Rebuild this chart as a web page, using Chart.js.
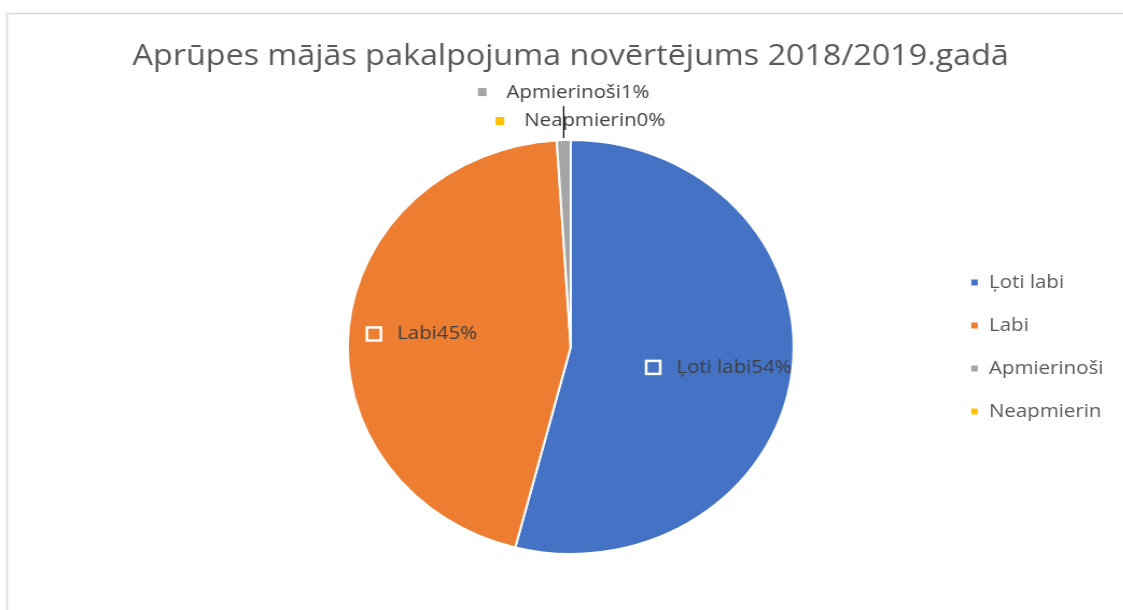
<!DOCTYPE html>
<html>
<head>
<meta charset="utf-8">
<script src="https://cdn.jsdelivr.net/npm/chart.js@4.4.0/dist/chart.umd.min.js"></script>
<style>
html, body { margin: 0; padding: 0; background: #fff; overflow: hidden; }
/* the reference pie is a little wider than tall, so stretch the drawing sideways */
#wrap { width: 1043px; height: 610px; transform: scaleX(1.077); transform-origin: 0 0; }
</style>
</head>
<body>
<div id="wrap"><canvas id="chart" width="1043" height="610"></canvas></div>
<script>
var titleText = 'Aprūpes mājās pakalpojuma novērtējums 2018/2019.gadā';
var categories = ['Ļoti labi', 'Labi', 'Apmierinoši', 'Neapmierin'];
var values = [54, 45, 1, 0];
var colors = ['#4472C4', '#ED7D31', '#A5A5A5', '#FFC000'];

Chart.defaults.font.family = "'Open Sans', sans-serif";

function percentOf(i) {
    var total = values.reduce(function (a, b) { return a + b; }, 0);
    return Math.round(values[i] / total * 100) + '%';
}

// thin grey frame of the chart box (only top and left show in the picture)
var framePlugin = {
    id: 'frame',
    afterLayout: function (chart) {
        // title sits centred over the pie, not over pie + legend
        var t = chart.titleBlock;
        if (t) {
            var c = (chart.chartArea.left + chart.chartArea.right) / 2;
            t.left = c - 500;
            t.right = c + 500;
        }
    },
    beforeDraw: function (chart) {
        var ctx = chart.ctx;
        ctx.save();
        ctx.strokeStyle = '#d9d9d9';
        ctx.lineWidth = 1.5;
        ctx.beginPath();
        ctx.moveTo(6.5, chart.height);
        ctx.lineTo(6.5, 13.5);
        ctx.lineTo(chart.width, 13.5);
        ctx.stroke();
        ctx.restore();
    }
};

// data labels: category name + percent, with a small key square in front
var labelPlugin = {
    id: 'sliceLabels',
    afterDatasetsDraw: function (chart) {
        var ctx = chart.ctx;
        var meta = chart.getDatasetMeta(0);
        ctx.save();
        ctx.font = '19px "Open Sans"';
        ctx.textBaseline = 'middle';
        ctx.textAlign = 'left';
        meta.data.forEach(function (arc, i) {
            var p = arc.getProps(['x', 'y', 'startAngle', 'endAngle', 'outerRadius'], true);
            var mid = (p.startAngle + p.endAngle) / 2;
            var text = categories[i] + percentOf(i);
            var tw = ctx.measureText(text).width;
            var box, gap, cx, cy;
            if (i < 2) {
                var r = p.outerRadius * 0.67;
                cx = p.x + Math.cos(mid) * r;
                cy = p.y + Math.sin(mid) * r;
                if (i === 0) cy += 3;
                box = 13; gap = 15;
                var x0 = cx - (box + gap + tw) / 2;
                ctx.fillStyle = colors[i];
                ctx.fillRect(x0, cy - box / 2, box, box);
                ctx.strokeStyle = '#ffffff';
                ctx.lineWidth = 2.5;
                ctx.strokeRect(x0, cy - box / 2, box, box);
                ctx.fillStyle = '#404040';
                ctx.fillText(text, x0 + box + gap, cy);
            } else {
                var ax = p.x + Math.cos(mid) * p.outerRadius;
                var ay = p.y + Math.sin(mid) * p.outerRadius;
                box = 8; gap = 18.5;
                if (i === 2) {
                    // leader line up from the thin grey slice
                    ctx.strokeStyle = '#000000';
                    ctx.lineWidth = 1.2;
                    ctx.beginPath();
                    ctx.moveTo(ax, ay - 2);
                    ctx.lineTo(ax, ay - 34);
                    ctx.stroke();
                    cx = ax; cy = ay - 48;
                } else {
                    cx = ax + 9; cy = ay - 19;
                }
                var x1 = cx - (box + gap + tw) / 2;
                ctx.fillStyle = colors[i];
                ctx.fillRect(x1, cy - box / 2, box, box);
                ctx.fillStyle = '#404040';
                ctx.fillText(text, x1 + box + gap, cy);
            }
        });
        ctx.restore();
    }
};

var ctx = document.getElementById('chart').getContext('2d');
var chart = new Chart(ctx, {
    type: 'pie',
    data: {
        labels: categories,
        datasets: [{
            data: values,
            backgroundColor: colors,
            borderColor: '#ffffff',
            borderWidth: 2,
            radius: 207
        }]
    },
    options: {
        responsive: false,
        animation: false,
        layout: { padding: { left: 183, right: 8.5, top: 0, bottom: 10 } },
        plugins: {
            title: {
                display: true,
                text: titleText,
                color: '#595959',
                font: { size: 30, weight: 'normal' },
                padding: { top: 38, bottom: 20 }
            },
            legend: {
                position: 'right',
                fullSize: false,
                labels: {
                    boxWidth: 8,
                    boxHeight: 8,
                    padding: 24,
                    color: '#595959',
                    font: { size: 19 }
                }
            },
            tooltip: { enabled: false }
        }
    },
    plugins: [framePlugin, labelPlugin]
});
</script>
</body>
</html>
